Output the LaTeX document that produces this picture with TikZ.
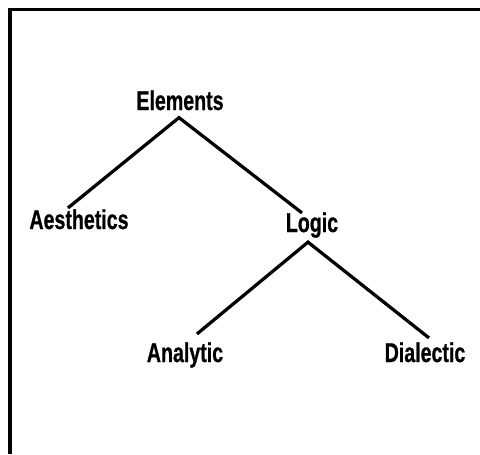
\documentclass[tikz,border=0pt]{standalone}
\usepackage{fontspec}
\usepackage{tikz}
\newfontfamily\termfont{Liberation Sans}[FakeStretch=0.72,FakeBold=0.7]

\begin{document}
\begin{tikzpicture}[
    x=0.02cm, y=-0.02cm,
    line/.style={line width=0.065cm},
    term/.style={font=\termfont\bfseries\fontsize{15.5}{17}\selectfont,inner sep=0pt,anchor=base}
]
\useasboundingbox (0,0) rectangle (480,454);

% open frame
\draw[line] (480,9.5) -- (10,9.5) -- (10,454);

\node[term] (elements) at (180,110) {Elements};
\node[term] (aesthetics) at (79,229) {Aesthetics};
\node[term] (logic) at (312,232) {Logic};
\node[term] (analytic) at (185,362) {Analytic};
\node[term] (dialectic) at (425,362) {Dialectic};

\draw[line] ([shift={(-11,-1)}]aesthetics.north) -- ([shift={(-1,7)}]elements.south)
    -- ([shift={(-10,1)}]logic.north);
\draw[line] ([shift={(12,-8)}]analytic.north) -- ([shift={(-4,4)}]logic.south)
    -- ([shift={(4,-4)}]dialectic.north);

\end{tikzpicture}
\end{document}
